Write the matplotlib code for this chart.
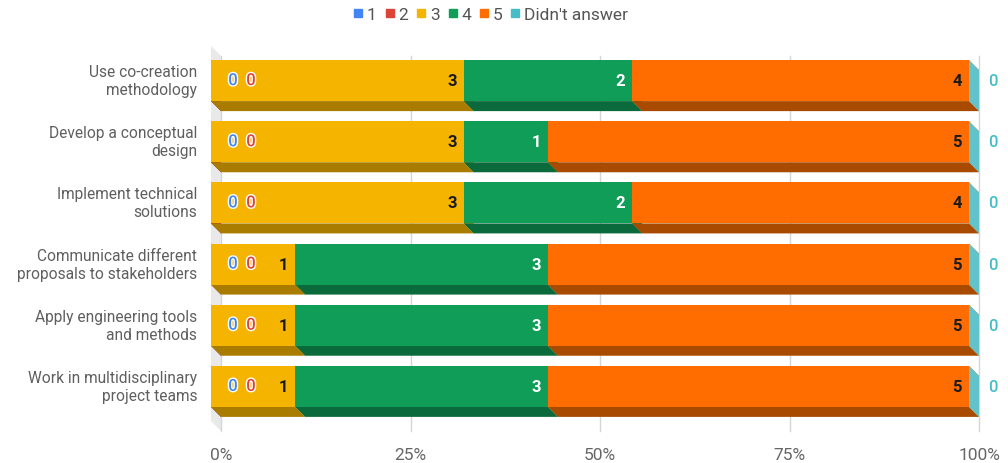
import matplotlib
matplotlib.use("Agg")
import matplotlib.pyplot as plt
from matplotlib.patches import Polygon, Rectangle
from matplotlib.lines import Line2D
import matplotlib.patheffects as pe

plt.rcParams['font.family'] = ['Roboto', 'DejaVu Sans']

categories = [
    "Use co-creation\nmethodology",
    "Develop a conceptual\ndesign",
    "Implement technical\nsolutions",
    "Communicate different\nproposals to stakeholders",
    "Apply engineering tools\nand methods",
    "Work in multidisciplinary\nproject teams",
]
series_names = ["1", "2", "3", "4", "5", "Didn't answer"]
s1 = [0, 0, 0, 0, 0, 0]
s2 = [0, 0, 0, 0, 0, 0]
s3 = [3, 3, 3, 1, 1, 1]
s4 = [2, 1, 2, 3, 3, 3]
s5 = [4, 5, 4, 5, 5, 5]
s6 = [0, 0, 0, 0, 0, 0]
series = [s1, s2, s3, s4, s5, s6]
tick_vals = [0, 0.25, 0.5, 0.75, 1.0]
tick_labels = ["0%", "25%", "50%", "75%", "100%"]

colors = ["#4285F4", "#DB4437", "#F4B400", "#0F9D58", "#FF6D00", "#46BDC6"]
dark = ["#2a5aa8", "#9a2f26", "#a97c00", "#0a6a3b", "#a84a00", "#2f8a91"]
side = ["#3a74d6", "#c23b30", "#d9a000", "#0c8a4c", "#e06000", "#62c3ca"]
label_col = ["#4285F4", "#DB4437", "#1a1a1a", "#ffffff", "#1a1a1a", "#46BDC6"]

W, H = 1008, 464
fig = plt.figure(figsize=(W / 100, H / 100), dpi=100)
left_px, right_px, top_px, bot_px = 211, 969, 47, 422
ax = fig.add_axes([left_px / W, (H - bot_px) / H, (right_px - left_px) / W, (bot_px - top_px) / H])
n = len(categories)
pad = 0.566
ax.set_xlim(0, 1)
ax.set_ylim(n - 1 + pad, -pad)
ax.axis('off')

ppx = (right_px - left_px)          # pixels per x unit
ppy = (bot_px - top_px) / (n - 1 + 2 * pad)  # pixels per y unit
DX = 10 / ppx
DY = 10 / ppy
h = 41 / ppy

ytop, ybot = -pad, n - 1 + pad
# left wall
ax.add_patch(Polygon([(0, ytop), (DX, ytop + DY), (DX, ybot + DY), (0, ybot)],
                     closed=True, facecolor="#e9e9e9", edgecolor="none", zorder=0, clip_on=False))
# back gridlines
for t in tick_vals:
    ax.plot([t + DX, t + DX], [ytop + DY, ybot + DY], color="#d6d6d6", lw=1, zorder=0.5, clip_on=False)
for t, lab in zip(tick_vals, tick_labels):
    ax.annotate(lab, xy=(t + DX, ybot + DY), xytext=(0, -16), textcoords='offset pixels',
                ha='center', va='top', fontsize=12.5, color="#666666", annotation_clip=False)

for i in range(n):
    total = sum(s[i] for s in series)
    cum = 0.0
    yt, yb = i - h / 2, i + h / 2
    for k, s in enumerate(series):
        l = cum / total
        r = (cum + s[i]) / total
        cum += s[i]
        z = 2 + k * 0.1
        # bottom face
        ax.add_patch(Polygon([(l, yb), (r, yb), (r + DX, yb + DY), (l + DX, yb + DY)], closed=True,
                             facecolor=dark[k], edgecolor="none", zorder=z, clip_on=False))
        # right side face
        ax.add_patch(Polygon([(r, yt), (r + DX, yt + DY), (r + DX, yb + DY), (r, yb)], closed=True,
                             facecolor=side[k], edgecolor="none", zorder=z, clip_on=False))
        # front face
        if r > l:
            ax.add_patch(Rectangle((l, yt), r - l, h, facecolor=colors[k], edgecolor="none",
                                   zorder=z + 0.01, clip_on=False))
        # label
        if s[i] > 0:
            ax.annotate(str(s[i]), xy=(r, i), xytext=(-7, 0), textcoords='offset pixels',
                        ha='right', va='center', fontsize=12, fontweight='bold',
                        color=label_col[k], zorder=5, annotation_clip=False)
    # zero labels
    ax.annotate("0", xy=(0, i), xytext=(22, 0), textcoords='offset pixels', ha='center', va='center',
                fontsize=12, fontweight='medium', color=colors[0], zorder=6, annotation_clip=False,
                path_effects=[pe.withStroke(linewidth=2, foreground='white')])
    ax.annotate("0", xy=(0, i), xytext=(40, 0), textcoords='offset pixels', ha='center', va='center',
                fontsize=12, fontweight='medium', color=colors[1], zorder=6, annotation_clip=False,
                path_effects=[pe.withStroke(linewidth=2, foreground='white')])
    ax.annotate("0", xy=(1, i), xytext=(24, 0), textcoords='offset pixels', ha='center', va='center',
                fontsize=12, fontweight='medium', color=colors[5], zorder=6, annotation_clip=False)
    # category label
    ax.annotate(categories[i], xy=(0, i), xytext=(-14, 0), textcoords='offset pixels',
                ha='right', va='center', fontsize=11.2, color="#5f5f5f", linespacing=1.25,
                annotation_clip=False)

handles = [Line2D([0], [0], marker='s', linestyle='', markersize=5.5, markerfacecolor=c,
                  markeredgecolor=c) for c in colors]
leg = fig.legend(handles, series_names, loc='center', bbox_to_anchor=(491 / W, 1 - 15 / H), ncol=6,
                 frameon=False, handlelength=0.5, handletextpad=0.25, columnspacing=0.5,
                 fontsize=12.5, borderaxespad=0)
for t in leg.get_texts():
    t.set_color("#555555")

fig.savefig("out.png", dpi=100)
